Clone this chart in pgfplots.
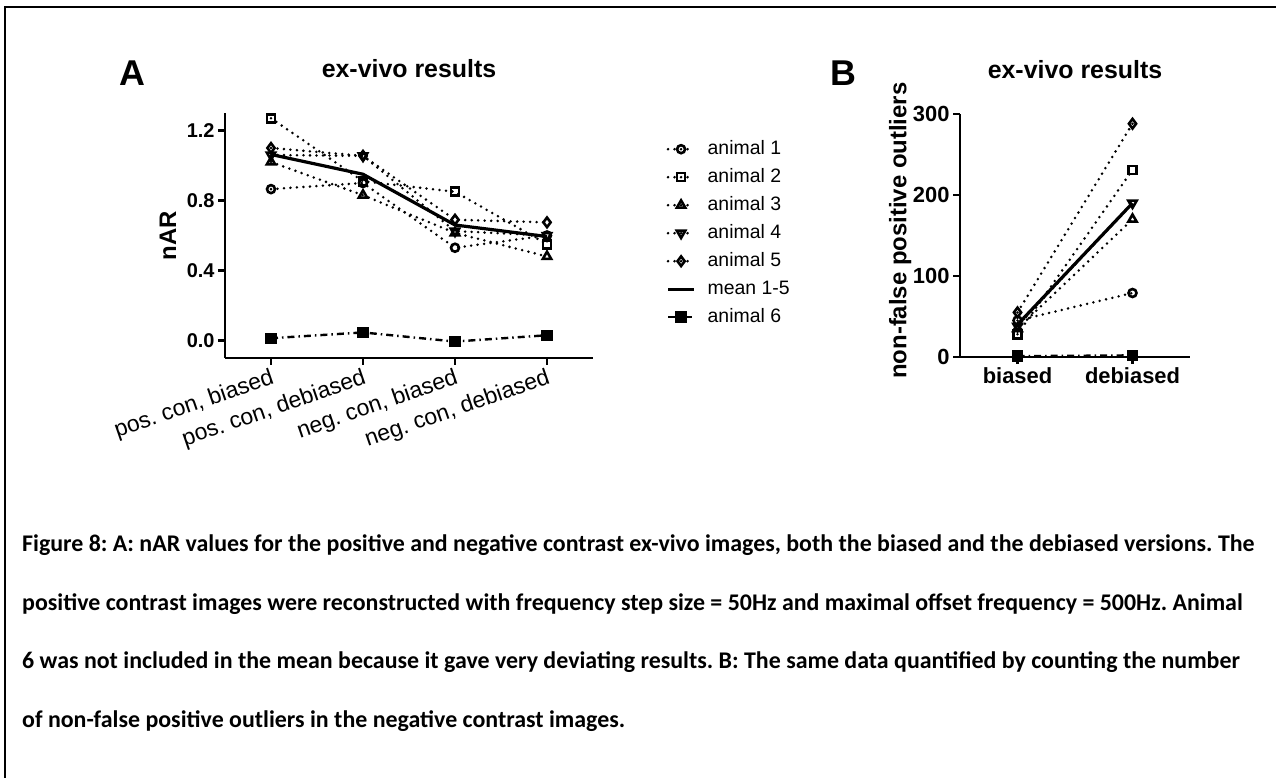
\documentclass[border=0pt]{standalone}
\usepackage{fontspec}
\setmainfont{Liberation Sans}
\newfontfamily\capfont{Carlito}
\usepackage{pgfplots}
\pgfplotsset{compat=1.18}
\frenchspacing
\begin{document}
\begin{tikzpicture}
\useasboundingbox (0bp,0bp) rectangle (1276bp,778bp);
\draw[line width=2.2bp] (5bp,0bp) -- (5bp,771bp) -- (1276bp,771bp);
\tikzset{
  dotln/.style={black, line width=2.8bp, line cap=round, dash pattern=on 0bp off 6.5bp},
  mk/.style={solid, line width=2.6bp, fill=white},
}
\pgfplotsset{
  every axis/.append style={
    scale only axis, clip=false,
    axis lines=left, axis line style={-, line width=2.4bp},
    tick style={line width=2.4bp, black}, major tick length=7bp, tick align=outside,
    /pgf/number format/assume math mode=true,
    legend image code/.code={\draw[mark repeat=2,mark phase=2] plot coordinates {(0bp,0bp) (13bp,0bp) (26bp,0bp)};},
  }
}
% Panel A
\begin{axis}[at={(225bp,420bp)}, anchor=south west, width=368bp, height=245bp,
  xmin=-0.5, xmax=3.5, ymin=-0.1, ymax=1.3,
  xtick={0,1,2,3},
  xticklabels={{pos. con, biased},{pos. con, debiased},{neg. con, biased},{neg. con, debiased}},
  xticklabel style={rotate=19, anchor=north east, font=\fontsize{23}{26}\selectfont, inner sep=2bp},
  ytick={0,0.4,0.8,1.2},
  yticklabel style={/pgf/number format/.cd, fixed, fixed zerofill, precision=1, /tikz/.cd, font=\fontsize{20}{24}\bfseries},
  ylabel={nAR}, ylabel style={at={(axis description cs:-0.155,0.5)}, anchor=center, font=\fontsize{24}{28}\bfseries},
  title={ex-vivo results}, title style={at={(axis description cs:0.5,1.155)}, anchor=center, font=\fontsize{25}{30}\bfseries},
  legend style={draw=none, fill=none, at={(1.191,0.902)}, anchor=north west, font=\fontsize{19.5}{23}\selectfont,
    nodes={inner sep=1bp, text height=14bp, text depth=4bp}, row sep=8bp, column sep=11bp},
  legend cell align=left,
]
\addplot[dotln, mark=o, mark size=4bp, mark options={mk}] coordinates {(0,0.865)(1,0.90)(2,0.53)(3,0.60)};
\addlegendentry{animal 1}
\addplot[dotln, mark=square, mark size=4bp, mark options={mk}] coordinates {(0,1.27)(1,0.91)(2,0.85)(3,0.55)};
\addlegendentry{animal 2}
\addplot[dotln, mark=triangle, mark size=4.8bp, mark options={mk}] coordinates {(0,1.02)(1,0.83)(2,0.615)(3,0.48)};
\addlegendentry{animal 3}
\addplot[dotln, mark=triangle, mark size=4.8bp, mark options={mk, rotate=180}] coordinates {(0,1.06)(1,1.055)(2,0.625)(3,0.60)};
\addlegendentry{animal 4}
\addplot[dotln, mark=diamond, mark size=4.8bp, mark options={mk}] coordinates {(0,1.10)(1,1.055)(2,0.69)(3,0.675)};
\addlegendentry{animal 5}
\addplot[black, line width=3.2bp, no marks] coordinates {(0,1.063)(1,0.95)(2,0.66)(3,0.594)};
\addlegendentry{mean 1-5}
\addplot[black, line width=2.4bp, dash pattern=on 7bp off 4bp on 1.5bp off 4bp, mark=square*, mark size=4.5bp, mark options={solid}] coordinates {(0,0.013)(1,0.046)(2,-0.006)(3,0.03)};
\addlegendentry{animal 6}
\end{axis}
% Panel B
\begin{axis}[at={(960bp,421bp)}, anchor=south west, width=230bp, height=243bp,
  xmin=-0.5, xmax=1.5, ymin=0, ymax=300,
  xtick={0,1}, xticklabels={biased,debiased},
  xticklabel style={font=\fontsize{22}{26}\bfseries},
  ytick={0,100,200,300},
  yticklabel style={font=\fontsize{22}{26}\bfseries},
  ylabel={non-false positive outliers}, ylabel style={at={(axis description cs:-0.26,0.52)}, anchor=center, font=\fontsize{24}{28}\bfseries},
  title={ex-vivo results}, title style={at={(axis description cs:0.5,1.16)}, anchor=center, font=\fontsize{25}{30}\bfseries},
]
\addplot[dotln, mark=o, mark size=4bp, mark options={mk}] coordinates {(0,45)(1,79)};
\addplot[dotln, mark=square, mark size=4bp, mark options={mk}] coordinates {(0,28)(1,231)};
\addplot[dotln, mark=triangle, mark size=4.8bp, mark options={mk}] coordinates {(0,35)(1,170)};
\addplot[dotln, mark=triangle, mark size=4.8bp, mark options={mk, rotate=180}] coordinates {(0,38)(1,190)};
\addplot[dotln, mark=diamond, mark size=4.8bp, mark options={mk}] coordinates {(0,55)(1,288)};
\addplot[black, line width=3.2bp, no marks] coordinates {(0,40)(1,190)};
\addplot[black, line width=2.4bp, dash pattern=on 7bp off 4bp on 1.5bp off 4bp, mark=square*, mark size=4.5bp, mark options={solid}] coordinates {(0,1)(1,2)};
\end{axis}
\node[font=\fontsize{36}{40}\bfseries] at (132bp,705bp) {A};
\node[font=\fontsize{36}{40}\bfseries] at (843bp,705bp) {B};
\begin{scope}[every node/.style={anchor=base west, inner sep=0pt, font=\capfont\fontsize{24}{28}\bfseries}]
\node at (22bp,226bp) {Figure 8: A: nAR values for the positive and negative contrast ex-vivo images, both the biased and the debiased versions. The};
\node at (22bp,167.5bp) {positive contrast images were reconstructed with frequency step size = 50Hz and maximal offset frequency = 500Hz. Animal};
\node at (22bp,109bp) {6 was not included in the mean because it gave very deviating results. B: The same data quantified by counting the number};
\node at (22bp,50.5bp) {of non-false positive outliers in the negative contrast images.};
\end{scope}
\end{tikzpicture}
\end{document}
